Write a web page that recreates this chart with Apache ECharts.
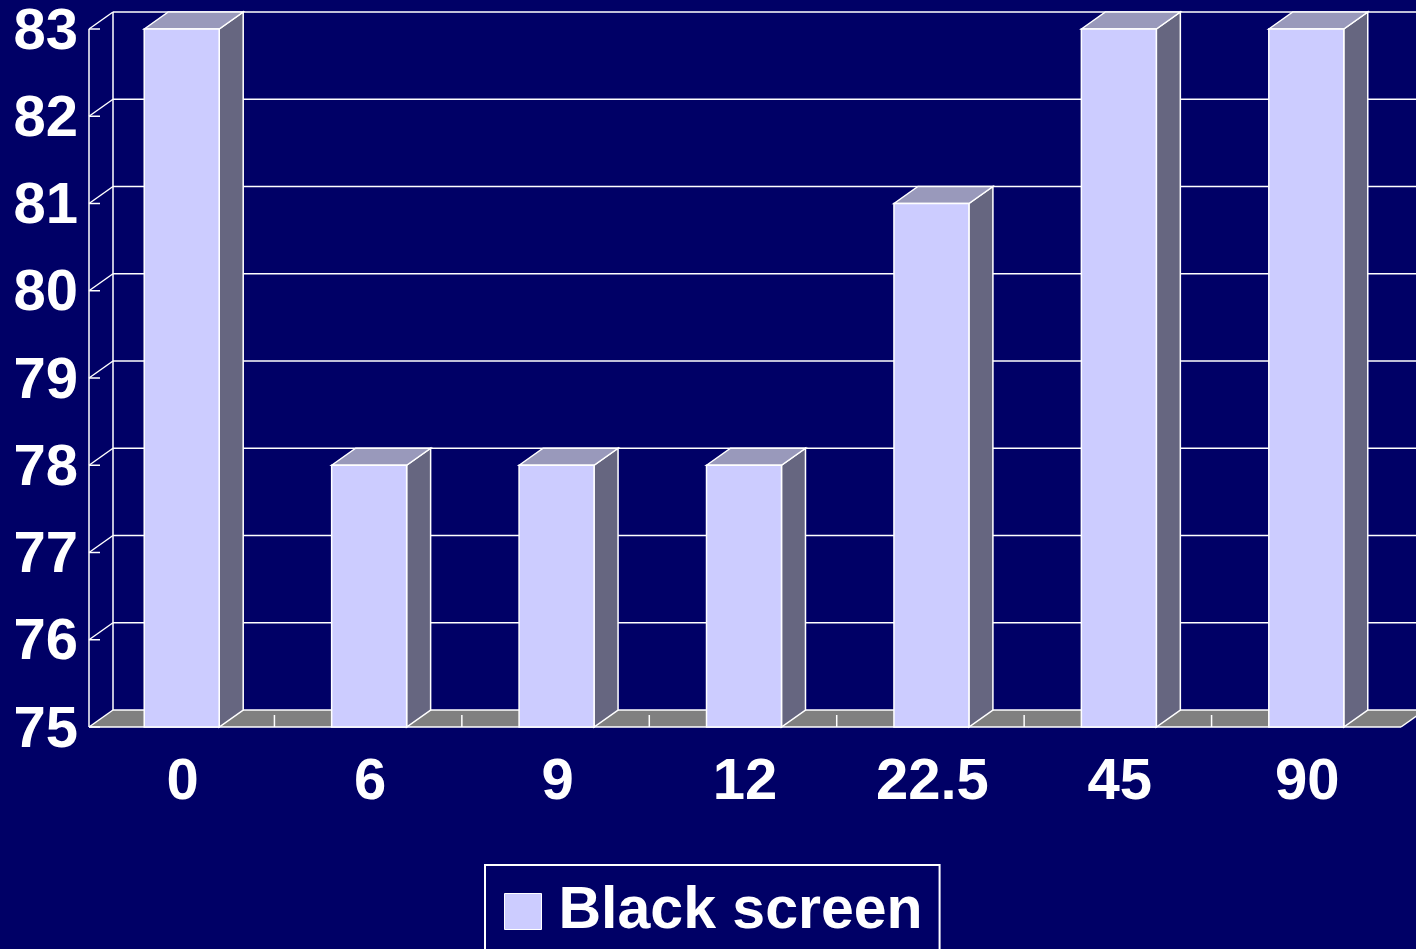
<!DOCTYPE html>
<html>
<head>
<meta charset="utf-8">
<script src="https://cdn.jsdelivr.net/npm/echarts@6/dist/echarts.min.js"></script>
<style>
html, body { margin: 0; padding: 0; background: #000066; }
#chart { width: 1416px; height: 949px; }
</style>
</head>
<body>
<div id="chart"></div>
<script>
// data
const categories = ['0', '6', '9', '12', '22.5', '45', '90'];
const values = [83, 78, 78, 78, 81, 83, 83];
const yTicks = [75, 76, 77, 78, 79, 80, 81, 82, 83];
const yMin = 75, yMax = 83;

// fake 3d depth offset
const DX = 24, DY = -17;
const FONT = '"Liberation Sans", Arial, sans-serif';
const LINE = { stroke: '#ffffff', lineWidth: 1.5 };

const chart = echarts.init(document.getElementById('chart'));

// back wall, gridlines, floor
function renderWall(params, api) {
    const cs = params.coordSys;
    const t = api.value(0);
    const y = api.coord([0, t])[1];
    const x0 = cs.x, x1 = cs.x + cs.width;
    const children = [];
    if (t === yMin) {
        const yTop = api.coord([0, yMax])[1];
        children.push({
            type: 'polygon',
            shape: { points: [[x0, y], [x1, y], [x1 + DX, y + DY], [x0 + DX, y + DY]] },
            style: { fill: '#808080' }
        });
        children.push({ type: 'line', shape: { x1: x0, y1: y, x2: x1, y2: y }, style: LINE });
        children.push({ type: 'line', shape: { x1: x1, y1: y, x2: x1 + DX, y2: y + DY }, style: LINE });
        children.push({ type: 'line', shape: { x1: x0, y1: yTop, x2: x0, y2: y }, style: LINE });
        children.push({ type: 'line', shape: { x1: x0 + DX, y1: yTop + DY, x2: x0 + DX, y2: y + DY }, style: LINE });
        const band = cs.width / categories.length;
        for (let i = 1; i < categories.length; i++) {
            const tx = x0 + band * i - 2;
            children.push({ type: 'line', shape: { x1: tx, y1: y - 12, x2: tx, y2: y }, style: LINE });
        }
    }
    children.push({ type: 'line', shape: { x1: x0 + DX, y1: y + DY, x2: x1 + DX + 20, y2: y + DY }, style: LINE });
    children.push({ type: 'line', shape: { x1: x0, y1: y, x2: x0 + DX, y2: y + DY }, style: LINE });
    children.push({ type: 'line', shape: { x1: x0, y1: y, x2: x0 + 11, y2: y }, style: LINE });
    return { type: 'group', children: children };
}

function renderBar(params, api) {
    const idx = api.value(0), v = api.value(1);
    const c = api.coord([idx, v]);
    const b = api.coord([idx, yMin]);
    const band = api.size([1, 0])[0];
    const w = band * 0.4;
    const l = c[0] - w / 2 - 1;
    const r = l + w;
    return {
        type: 'group',
        children: [
            {
                type: 'polygon',
                shape: { points: [[r, c[1]], [r + DX, c[1] + DY], [r + DX, b[1] + DY], [r, b[1]]] },
                style: { fill: '#666680', stroke: '#ffffff', lineWidth: 1.5 }
            },
            {
                type: 'polygon',
                shape: { points: [[l, c[1]], [l + DX, c[1] + DY], [r + DX, c[1] + DY], [r, c[1]]] },
                style: { fill: '#9999bb', stroke: '#ffffff', lineWidth: 1.5 }
            },
            {
                type: 'rect',
                shape: { x: l, y: c[1], width: w, height: b[1] - c[1] },
                style: { fill: '#ccccff', stroke: '#ffffff', lineWidth: 1.5 }
            }
        ]
    };
}

const option = {
    backgroundColor: '#000066',
    animation: false,
    grid: { left: 89, right: 15, top: 29, bottom: 222 },
    xAxis: {
        type: 'category',
        data: categories,
        axisLine: { show: false },
        axisTick: { show: false },
        axisLabel: { color: '#fff', fontSize: 58, fontWeight: 'bold', fontFamily: FONT, margin: 27 }
    },
    yAxis: {
        type: 'value',
        min: yMin,
        max: yMax,
        interval: 1,
        axisLine: { show: false },
        axisTick: { show: false },
        splitLine: { show: false },
        axisLabel: {
            margin: 11,
            formatter: '{v|{value}}',
            rich: {
                v: { color: '#fff', fontSize: 58, fontWeight: 'bold', fontFamily: FONT, padding: [7, 0, 0, 0] }
            }
        }
    },
    legend: {
        left: 485,
        top: 865,
        padding: [17, 17, 40, 19],
        borderColor: '#fff',
        borderWidth: 2,
        itemWidth: 37,
        itemHeight: 36,
        icon: 'rect',
        itemStyle: { borderColor: '#fff', borderWidth: 1 },
        textStyle: { color: '#fff', fontSize: 59, fontWeight: 'bold', fontFamily: FONT, padding: [0, 0, 0, 12] },
        data: ['Black screen']
    },
    series: [
        {
            type: 'custom',
            name: 'wall',
            renderItem: renderWall,
            data: yTicks.map(t => [t]),
            encode: { y: 0 },
            z: 1,
            silent: true
        },
        {
            type: 'custom',
            name: 'Black screen',
            renderItem: renderBar,
            itemStyle: { color: '#ccccff' },
            data: values.map((v, i) => [i, v]),
            encode: { x: 0, y: 1 },
            z: 3
        }
    ]
};
chart.setOption(option);
</script>
</body>
</html>
